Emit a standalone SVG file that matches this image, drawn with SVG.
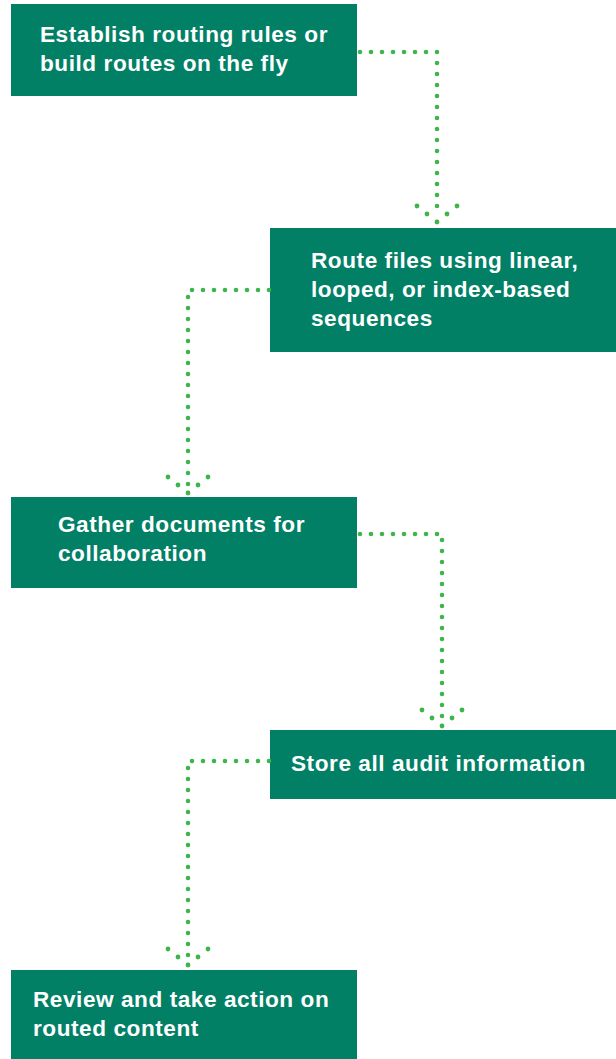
<svg xmlns="http://www.w3.org/2000/svg" width="616" height="1059" viewBox="0 0 616 1059">
<style>
.box{fill:#018066}
.lbl{font-family:"Liberation Sans",Arial,sans-serif;font-weight:bold;font-size:22.6px;fill:#ffffff;letter-spacing:0.55px}
.dots{fill:none;stroke:#3cb54a;stroke-width:4.6;stroke-linecap:round;stroke-dasharray:0 11}
.head{fill:none;stroke:#3cb54a;stroke-width:4.8;stroke-linecap:round;stroke-dasharray:0 12.8}
</style>
<defs>
<g id="arrowhead"><path class="head" d="M-20,-16 L0,0 M20,-16 L0,0"/></g>
</defs>
<rect width="616" height="1059" fill="#ffffff"/>
<g id="n1"><rect class="box" x="11" y="4" width="346" height="92"/><text class="lbl" x="40" y="42">Establish routing rules or</text><text class="lbl" x="40" y="71">build routes on the fly</text></g>
<g id="n2"><rect class="box" x="270" y="228" width="346" height="124"/><text class="lbl" x="311" y="268">Route files using linear,</text><text class="lbl" x="311" y="297">looped, or index-based</text><text class="lbl" x="311" y="326">sequences</text></g>
<g id="n3"><rect class="box" x="11" y="497" width="346" height="91"/><text class="lbl" x="58" y="532">Gather documents for</text><text class="lbl" x="58" y="561">collaboration</text></g>
<g id="n4"><rect class="box" x="270" y="730" width="346" height="69"/><text class="lbl" x="291" y="771">Store all audit information</text></g>
<g id="n5"><rect class="box" x="11" y="970" width="346" height="89"/><text class="lbl" x="33" y="1007">Review and take action on</text><text class="lbl" x="33" y="1036">routed content</text></g>
<g id="connectors">
<path class="dots" d="M360,52 H437 V217"/><use href="#arrowhead" x="437" y="222"/>
<path class="dots" d="M269,290 H188 V488"/><use href="#arrowhead" x="188" y="493"/>
<path class="dots" d="M360,534 H442 V721"/><use href="#arrowhead" x="442" y="726"/>
<path class="dots" d="M269,761 H188 V960"/><use href="#arrowhead" x="188" y="965"/>
</g>
</svg>
